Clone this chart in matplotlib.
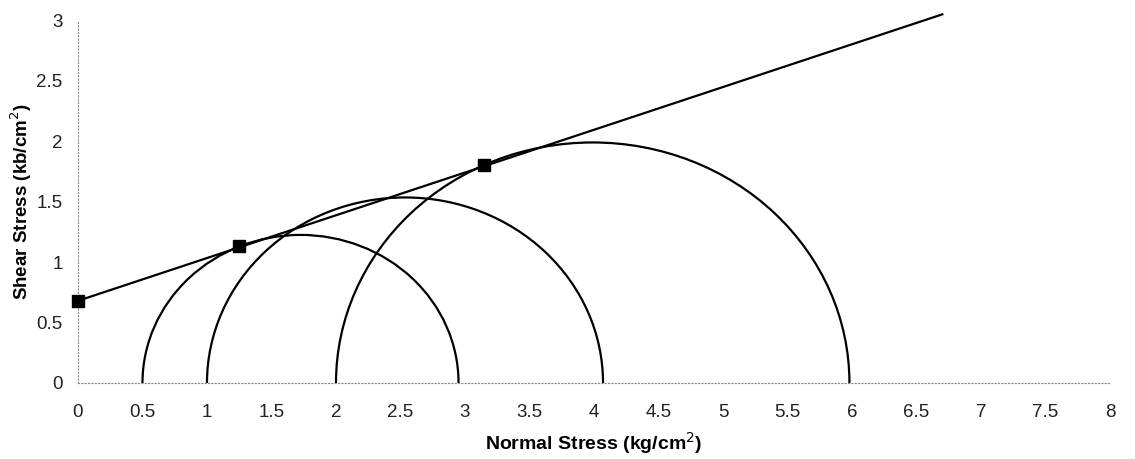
import matplotlib
matplotlib.use("Agg")
import matplotlib.pyplot as plt
from matplotlib.patches import Arc

plt.rcParams["font.family"] = ["Liberation Sans", "DejaVu Sans"]

# Mohr circles: (sigma3, sigma1) per test
sigma3 = [0.5, 1.0, 2.0]
sigma1 = [2.95, 4.07, 5.98]

# failure points on the envelope
pt_x = [0.0, 1.25, 3.15]
pt_y = [0.68, 1.13, 1.80]

# Coulomb envelope end points
env_x = [0.0, 6.7]
env_y = [0.68, 3.05]

xticks = [0, 0.5, 1, 1.5, 2, 2.5, 3, 3.5, 4, 4.5, 5, 5.5, 6, 6.5, 7, 7.5, 8]
yticks = [0, 0.5, 1, 1.5, 2, 2.5, 3]


def fmt(v):
    return f"{v:g}"


fig = plt.figure(figsize=(11.35, 4.59), dpi=100)
ax = fig.add_axes([0.0687, 0.1656, 0.9093, 0.790])

for s3, s1 in zip(sigma3, sigma1):
    c = (s3 + s1) / 2
    d = s1 - s3
    ax.add_patch(Arc((c, 0), d, d, theta1=0, theta2=180, color="black", lw=1.6))

ax.plot(env_x, env_y, color="black", lw=1.6, clip_on=False)
ax.plot(pt_x, pt_y, ls="none", marker="s", ms=8, color="black", clip_on=False, zorder=5)

ax.set_xlim(0, 8)
ax.set_ylim(0, 3)
ax.set_xticks(xticks)
ax.set_xticklabels([fmt(v) for v in xticks])
ax.set_yticks(yticks)
ax.set_yticklabels([fmt(v) for v in yticks])
ax.tick_params(length=0, labelsize=13.5, colors="#222222")
ax.tick_params(axis="x", pad=15)
ax.tick_params(axis="y", pad=11)

for side in ("top", "right"):
    ax.spines[side].set_visible(False)
for side in ("left", "bottom"):
    ax.spines[side].set_linestyle((0, (1, 2)))
    ax.spines[side].set_color("#888888")
    ax.spines[side].set_linewidth(0.8)

ax.set_xlabel("Normal Stress (kg/cm$^2$)", fontsize=14, fontweight="bold", labelpad=7)
ax.set_ylabel("Shear Stress (kb/cm$^2$)", fontsize=13.5, fontweight="bold", labelpad=2)

fig.savefig("out.png", dpi=100)
